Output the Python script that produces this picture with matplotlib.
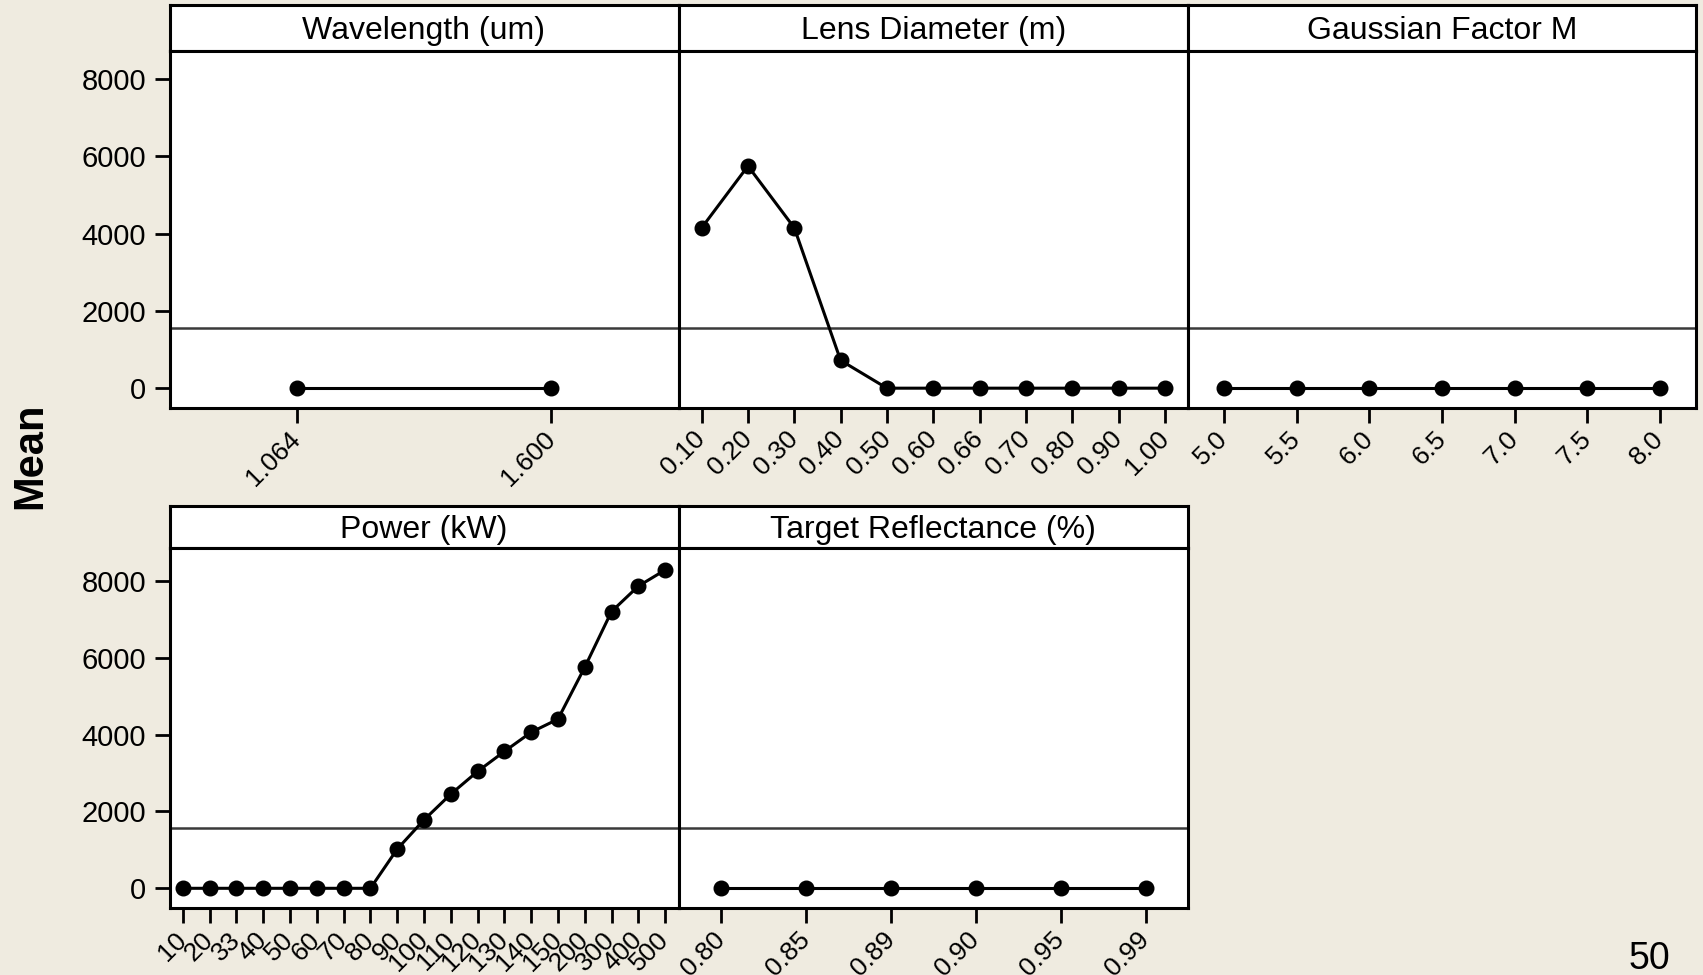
import matplotlib.pyplot as plt

plt.rcParams['font.family'] = ['Liberation Sans', 'DejaVu Sans']

# main effects data (means)
wavelength = ['1.064', '1.600']
wavelength_mean = [0, 0]

lens = ['0.10', '0.20', '0.30', '0.40', '0.50', '0.60', '0.66', '0.70', '0.80', '0.90', '1.00']
lens_mean = [4150, 5750, 4150, 720, 0, 0, 0, 0, 0, 0, 0]

gauss = ['5.0', '5.5', '6.0', '6.5', '7.0', '7.5', '8.0']
gauss_mean = [0, 0, 0, 0, 0, 0, 0]

power = ['10', '20', '33', '40', '50', '60', '70', '80', '90', '100',
         '110', '120', '130', '140', '150', '200', '300', '400', '500']
power_mean = [0, 0, 0, 0, 0, 0, 0, 0, 1020, 1780,
              2450, 3040, 3560, 4060, 4400, 5750, 7200, 7860, 8280]

refl = ['0.80', '0.85', '0.89', '0.90', '0.95', '0.99']
refl_mean = [0, 0, 0, 0, 0, 0]

grand_mean = 1560
yticks = [0, 2000, 4000, 6000, 8000]

W, H = 1703, 975
bg = '#efebe0'
fig = plt.figure(figsize=(W / 100, H / 100), dpi=100, facecolor=bg)

xs = [169.5, 678.5, 1188, 1696]
rows = {0: (5, 50.5, 407.5, (-500, 8740)),
        1: (506, 547.7, 908.3, (-520, 8860))}
lw = 2.2


def panel(col, row, title, labels, values):
    top, mid, bot, ylim = rows[row]
    x0 = xs[col] / W
    w = (xs[col + 1] - xs[col]) / W
    # strip
    sa = fig.add_axes([x0, 1 - mid / H, w, (mid - top) / H])
    sa.set_facecolor('white')
    sa.set_xticks([])
    sa.set_yticks([])
    for s in sa.spines.values():
        s.set_linewidth(lw)
    sa.text(0.5, 0.42, title, ha='center', va='center', fontsize=23,
            transform=sa.transAxes)
    # plot
    ax = fig.add_axes([x0, 1 - bot / H, w, (bot - mid) / H])
    ax.set_facecolor('white')
    for s in ax.spines.values():
        s.set_linewidth(lw)
    pos = list(range(1, len(labels) + 1))
    ax.axhline(grand_mean, color='#3a3a3a', lw=1.8, zorder=1)
    ax.plot(pos, values, color='black', lw=2.2, marker='o', ms=10.5, zorder=3)
    ax.set_xlim(0.5, len(labels) + 0.5)
    ax.set_ylim(*ylim)
    ax.set_xticks(pos)
    ax.set_xticklabels(labels, rotation=45, ha='right', va='center',
                       rotation_mode='anchor', fontsize=19)
    ax.tick_params(axis='x', length=11, width=2, pad=9)
    if col == 0:
        ax.set_yticks(yticks)
        ax.tick_params(axis='y', length=11, width=2, labelsize=21, pad=6)
    else:
        ax.set_yticks([])
    return ax


panel(0, 0, 'Wavelength (um)', wavelength, wavelength_mean)
panel(1, 0, 'Lens Diameter (m)', lens, lens_mean)
panel(2, 0, 'Gaussian Factor M', gauss, gauss_mean)
panel(0, 1, 'Power (kW)', power, power_mean)
panel(1, 1, 'Target Reflectance (%)', refl, refl_mean)

fig.text(30 / W, 1 - 456 / H, 'Mean', rotation=90, ha='center', va='center',
         fontsize=30, fontweight='bold')
fig.text(1670 / W, 0.006, '50', ha='right', va='baseline', fontsize=27)

fig.savefig('out.png', dpi=100, facecolor=bg)
